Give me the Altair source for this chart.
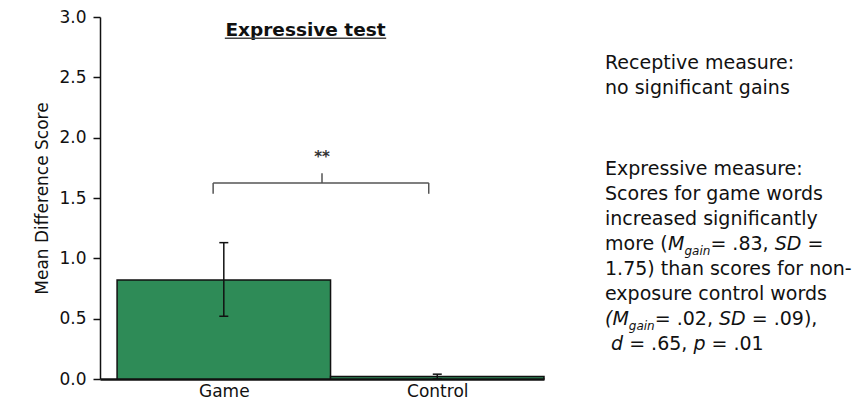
import altair as alt
import pandas as pd

# ---------------- data ----------------
categories = ["Game", "Control"]
mean_scores = [0.82, 0.02]
err_lower = [0.52, 0.00]
err_upper = [1.13, 0.04]
y_tick_values = [0.0, 0.5, 1.0, 1.5, 2.0, 2.5, 3.0]
y_domain = [0.0, 3.0]

chart_title = "Expressive test"
y_axis_title = "Mean Difference Score"
sig_label = "**"

# significance bracket (x in category units: Game spans 0-1, Control 1-2)
bracket_left = 0.45
bracket_right = 1.46
bracket_mid = 0.96
bracket_level = 1.625
bracket_drop = 1.535
bracket_peak = 1.705
sig_y = 1.80

notes_receptive = [
    [("Receptive measure:", "n")],
    [("no significant gains", "n")],
]
notes_expressive = [
    [("Expressive measure:", "n")],
    [("Scores for game words", "n")],
    [("increased significantly", "n")],
    [("more (", "n"), ("M", "i"), ("gain", "s"), ("= .83, ", "n"), ("SD", "i"), (" =", "n")],
    [("1.75) than scores for non-", "n")],
    [("exposure control words", "n")],
    [("(M", "i"), ("gain", "s"), ("= .02, ", "n"), ("SD", "i"), (" = .09),", "n")],
    [(" ", "n"), ("d", "i"), (" = .65, ", "n"), ("p", "i"), (" = .01", "n")],
]

# ---------------- layout / style ----------------
FONT = "DejaVu Sans"
INK = "#111111"
W, H = 444, 362
PAD_TOP = 9
X_DOMAIN = [-0.08, 2.0]

# DejaVu Sans advance widths (em)
ADV = {" ": .318, "(": .390, ")": .390, ",": .318, "-": .361, ".": .318, ":": .337,
       "=": .838, "D": .770, "M": .863, "S": .635, "a": .613, "c": .550, "d": .635,
       "e": .615, "g": .635, "h": .634, "i": .278, "l": .278, "m": .974, "n": .634,
       "o": .612, "p": .635, "r": .411, "s": .521, "t": .392, "u": .634, "w": .818,
       "x": .592, "y": .592, "f": .352, "v": .592}
for dgt in "0123456789":
    ADV[dgt] = .636
ADV_BOLD = {"E": .683, "x": .712, "p": .716, "r": .493, "e": .678, "s": .595,
            "i": .343, "v": .652, " ": .348, "t": .478}


def text_w(s, size, table=ADV):
    return sum(table.get(c, 0.6) for c in s) * size


df = pd.DataFrame({
    "cat": categories,
    "start": [i for i in range(len(categories))],
    "end": [i + 1 for i in range(len(categories))],
    "mid": [i + 0.5 for i in range(len(categories))],
    "mean": mean_scores,
    "base": [0.0] * len(categories),
    "lo": err_lower,
    "hi": err_upper,
})

xs = alt.Scale(domain=X_DOMAIN, nice=False, zero=False)
ys = alt.Scale(domain=y_domain, nice=False, zero=True)

label_expr = "[" + ",".join("'" + c + "'" for c in categories) + "][floor(datum.value)]"

x_axis = alt.Axis(values=[i + 0.5 for i in range(len(categories))], labelExpr=label_expr,
                  ticks=False, grid=False, title=None, domainColor=INK, domainWidth=2.5,
                  labelFont=FONT, labelFontSize=17, labelColor=INK, labelPadding=4)
y_axis = alt.Axis(values=y_tick_values, format=".1f", title=y_axis_title, grid=False,
                  tickSize=7, tickWidth=1.5, tickColor=INK, domainColor=INK, domainWidth=1.5,
                  labelFont=FONT, labelFontSize=17, labelColor=INK, labelPadding=7,
                  titleFont=FONT, titleFontSize=17, titleFontWeight="normal",
                  titleColor=INK, titlePadding=7)

base = alt.Chart(df)

bars = base.mark_bar(fill="#2e8b57", stroke=INK, strokeWidth=1.5).encode(
    x=alt.X("start:Q", scale=xs, axis=x_axis),
    x2="end:Q",
    y=alt.Y("mean:Q", scale=ys, axis=y_axis),
    y2="base:Q",
)

err_rule = base.mark_rule(color=INK, strokeWidth=1.5).encode(
    x="mid:Q", y="lo:Q", y2="hi:Q")
cap_lo = base.mark_tick(orient="horizontal", size=9, thickness=1.5, color=INK, opacity=1).encode(
    x="mid:Q", y="lo:Q")
cap_hi = base.mark_tick(orient="horizontal", size=9, thickness=1.5, color=INK, opacity=1).encode(
    x="mid:Q", y="hi:Q")

bracket_df = pd.DataFrame({
    "x": [bracket_left, bracket_left, bracket_right, bracket_mid],
    "x2": [bracket_right, bracket_left, bracket_right, bracket_mid],
    "y": [bracket_level, bracket_drop, bracket_drop, bracket_level],
    "y2": [bracket_level, bracket_level, bracket_level, bracket_peak],
})
bracket = alt.Chart(bracket_df).mark_rule(color="#555555", strokeWidth=1.5).encode(
    x="x:Q", x2="x2:Q", y="y:Q", y2="y2:Q")

sig = alt.Chart(pd.DataFrame({"t": [sig_label]})).mark_text(
    font=FONT, fontSize=15, fontWeight="bold", color="#333333", baseline="alphabetic"
).encode(x=alt.datum(bracket_mid), y=alt.datum(sig_y), text="t:N")

# title (inside the plot frame, underlined)
TITLE_SIZE = 18.5
title_cx, title_base = 205.5, 35.7 - 8 - PAD_TOP
tw = text_w(chart_title, TITLE_SIZE, ADV_BOLD)
title = alt.Chart(pd.DataFrame({"t": [chart_title]})).mark_text(
    font=FONT, fontSize=TITLE_SIZE, fontWeight="bold", color=INK, baseline="alphabetic",
    align="center"
).encode(x=alt.value(title_cx), y=alt.value(title_base), text="t:N")
underline = alt.Chart(pd.DataFrame({"t": [chart_title]})).mark_rule(
    color="#444444", strokeWidth=1.5
).encode(x=alt.value(title_cx - tw / 2), x2=alt.value(title_cx + tw / 2),
         y=alt.value(title_base + 2.5))

# side notes
NOTE_SIZE = 19
SUB_SIZE = 12
note_x = 505
line_h = 25
note_layers = []


def add_paragraph(lines, first_base):
    for li, segs in enumerate(lines):
        yb = first_base + li * line_h
        cx = note_x
        for s, style in segs:
            size = SUB_SIZE if style == "s" else NOTE_SIZE
            lead = len(s) - len(s.lstrip())
            shown = s.strip()
            if shown:
                dx = text_w(s[:lead], size)
                note_layers.append(
                    alt.Chart(pd.DataFrame({"t": [shown]})).mark_text(
                        font=FONT, fontSize=size, color=INK, align="left",
                        baseline="alphabetic",
                        fontStyle="italic" if style in ("i", "s") else "normal",
                    ).encode(x=alt.value(cx + dx),
                             y=alt.value(yb + (5 if style == "s" else 0)),
                             text="t:N")
                )
            cx += text_w(s, size)


add_paragraph(notes_receptive, 69 - 8 - PAD_TOP)
add_paragraph(notes_expressive, 175 - 8 - PAD_TOP)

chart = alt.layer(bars, err_rule, cap_lo, cap_hi, bracket, sig, title, underline,
                  *note_layers).properties(
    width=W, height=H,
    autosize=alt.AutoSizeParams(type="none"),
    padding={"left": 92, "top": PAD_TOP, "right": 309, "bottom": 394 - PAD_TOP - H},
    background="white",
).configure_view(stroke=None)

chart.save("out.html", embed_options={"renderer": "svg", "actions": False})
